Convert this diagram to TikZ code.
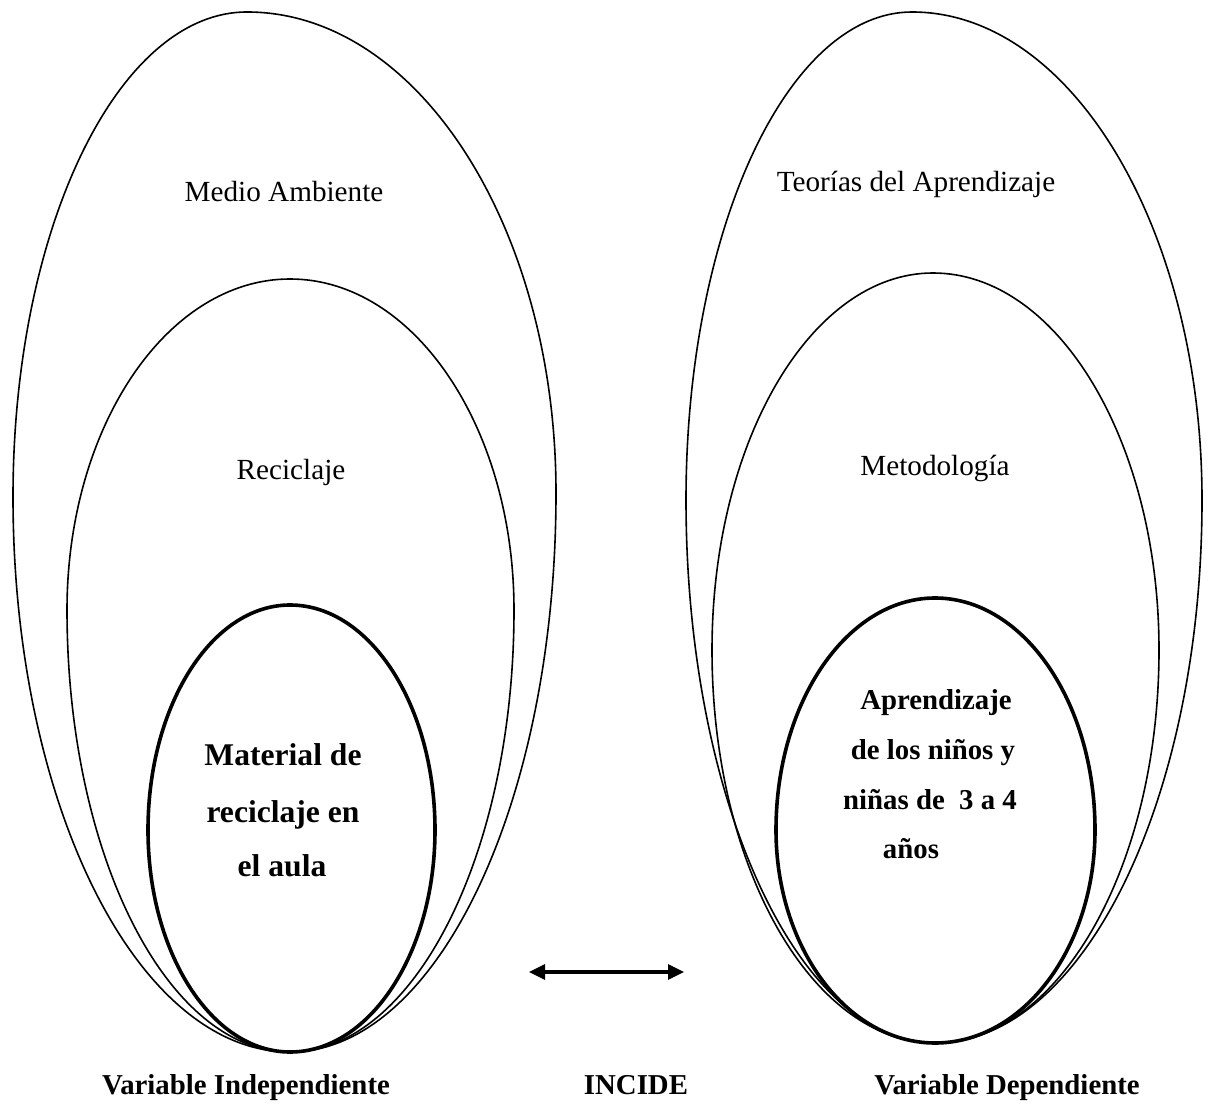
\documentclass[tikz,border=0pt]{standalone}
\usepackage{fontspec}
\setmainfont{Liberation Serif}
\usetikzlibrary{arrows.meta}
\newcommand\myegg[9]{%
 \draw[#1] (#2,#3) .. controls ({#2+0.5523*(#4-#2)},#3) and (#4,{#5-0.5523*(#5-#3)}) .. (#4,#5)
 .. controls (#4,{#5+0.5523*(#7-#5)}) and ({#6+0.5523*(#4-#6)},#7) .. (#6,#7)
 .. controls ({#6-0.5523*(#6-#8)},#7) and (#8,{#9+0.5523*(#7-#9)}) .. (#8,#9)
 .. controls (#8,{#9-0.5523*(#9-#3)}) and ({#2-0.5523*(#2-#8)},#3) .. cycle;}
\tikzset{
  thinegg/.style={line width=0.8pt},
  thickegg/.style={line width=1.8pt},
  lbl/.style={anchor=base, font=\fontsize{14.6}{17}\selectfont},
  blbl/.style={anchor=base, font=\fontsize{14.4}{17}\selectfont\bfseries},
  inl/.style={anchor=base, font=\fontsize{15.8}{19}\selectfont\bfseries},
  inr/.style={anchor=base, font=\fontsize{14.4}{17}\selectfont\bfseries},
}
\begin{document}
\begin{tikzpicture}[x=0.5pt,y=-0.5pt]
\path[use as bounding box] (0,0) rectangle (1210,1106);
% left ellipses
\myegg{thinegg}{247}{12}{556}{493}{290}{1052}{13}{497}
\myegg{thinegg}{290}{279}{514}{610}{290}{1052}{67}{610}
\myegg{thickegg}{290}{605}{435}{830}{290}{1052}{148}{830}
% right ellipses
\myegg{thinegg}{912}{12}{1202}{500}{935}{1043}{686}{500}
\myegg{thinegg}{933}{273}{1159}{650}{935}{1043}{712}{650}
\myegg{thickegg}{935}{598}{1095}{830}{935}{1043}{776}{830}
% texts
\node[lbl] (ma) at (284,202) {Medio Ambiente};
\node[lbl] (re) at (291,480) {Reciclaje};
\node[lbl] (ta) at (916,192) {Teorías del Aprendizaje};
\node[lbl] (me) at (935,476) {Metodología};
\node[inl] (l1) at (283,765) {Material de};
\node[inl] (l2) at (283,822) {reciclaje en};
\node[inl] (l3) at (282,876) {el aula};
\node[inr] (r1) at (936,709) {Aprendizaje};
\node[inr] (r2) at (933,759) {de los niños y};
\node[inr] (r3) at (930,809) {niñas de \ 3 a 4};
\node[inr] (r4) at (911,858) {años};
\node[blbl] (vi) at (246,1094) {Variable Independiente};
\node[blbl] (inc) at (636,1094) {INCIDE};
\node[blbl] (vd) at (1007,1094) {Variable Dependiente};
% arrow
\coordinate (al) at (529,972);
\coordinate (ar) at (684,972);
\draw[line width=1.6pt, {Triangle[length=8pt,width=7.5pt]}-{Triangle[length=8pt,width=7.5pt]}] (al) -- (ar);
\end{tikzpicture}
\end{document}
